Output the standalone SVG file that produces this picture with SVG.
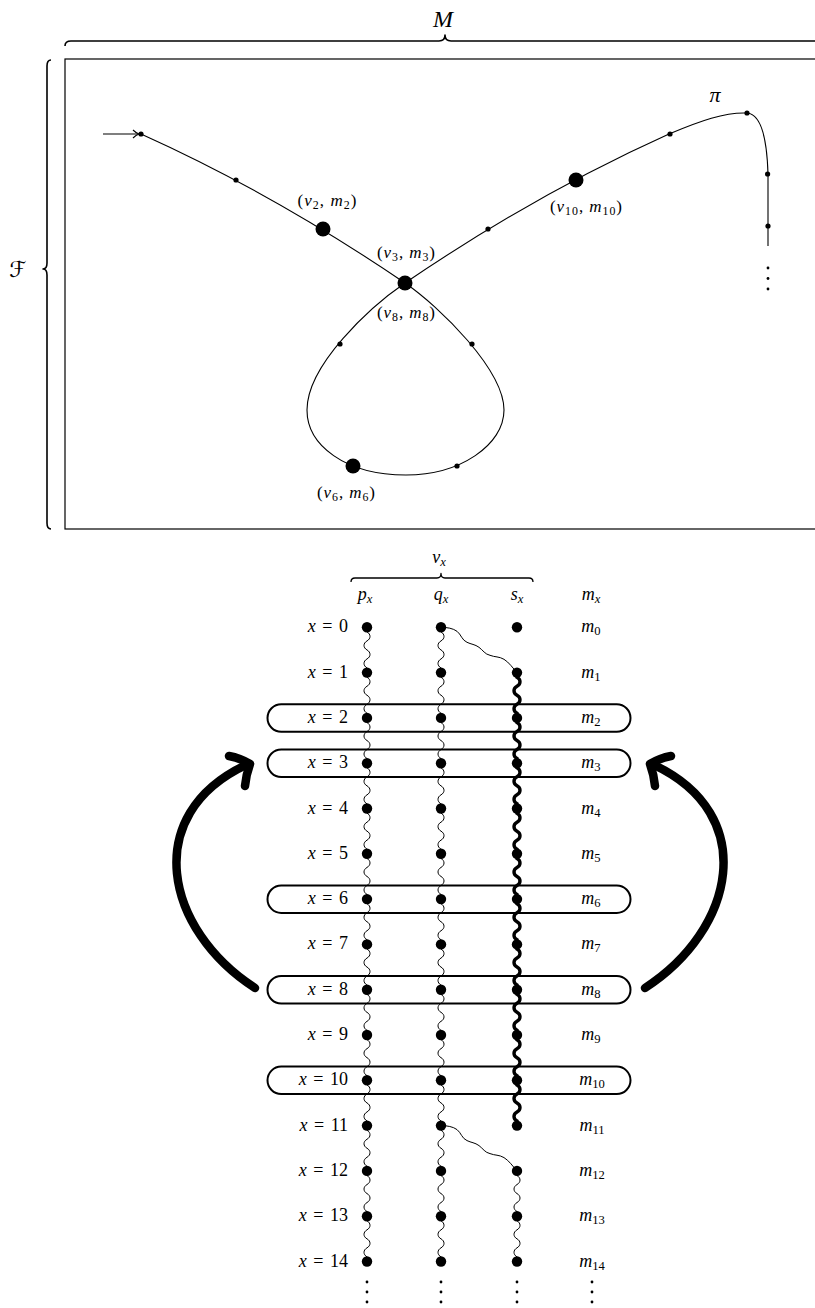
<svg xmlns="http://www.w3.org/2000/svg" xmlns:xlink="http://www.w3.org/1999/xlink" width="815" height="1308" viewBox="0 0 815 1308">
  <style>
    text { font-family: "Liberation Serif", "DejaVu Serif", serif; fill: #000; }
    .i { font-style: italic; }
    .lbl { font-size: 17px; }
    .row { font-size: 18px; word-spacing: 2px; }
    .hd { font-size: 18px; }
    .sub { font-size: 70%; }
    .frame { fill: none; stroke: #000; stroke-width: 1.2; }
    .brace { fill: none; stroke: #000; stroke-width: 1.6; stroke-linejoin: round; }
    .path { fill: none; stroke: #000; stroke-width: 1.1; }
    .wv { fill: none; stroke: #000; stroke-width: 1; }
    .wvk { fill: none; stroke: #000; stroke-width: 3.4; }
    .box { fill: none; stroke: #000; stroke-width: 2; }
    .jump { fill: none; stroke: #000; stroke-width: 8.5; stroke-linecap: round; stroke-linejoin: round; }
    .dot { fill: #000; }
  </style>
  <defs>
    <!-- one wavy step between two consecutive rows -->
    <path id="wv" d="M0,0 L0,4.65 c4,2.25 4,6.75 0,9 s-4,6.75 0,9 s4,6.75 0,9 s-4,6.75 0,9 L0,45.3"/>
    <!-- wavy hop from column q to column s one row lower -->
    <path id="hop" d="M0,0 C6,0 12,1 16,4 C20,7 21,13 26,15 C30,17 34,17 38,20 C42,23 44,27 49,28 C54,30 58,29 63,32 C68,35 72,41 76,45.3"/>
  </defs>

  <!-- frame and braces -->
  <g id="frame">
    <rect class="frame" x="65" y="59" width="800" height="470"/>
    <path class="brace" d="M65,46 Q65,41 71,41 L439,41 Q445,41 445,35 Q445,41 451,41 L830,41"/>
    <text x="443" y="27" text-anchor="middle" class="i" font-size="24">M</text>
    <path class="brace" d="M51,60 Q47,60 47,66 L47,263 Q47,269 43,269 Q47,269 47,275 L47,523 Q47,529 51,529"/>
    <text x="18" y="277" text-anchor="middle" font-size="22" style="font-family:'DejaVu Serif','DejaVu Sans',serif">ℱ</text>
  </g>

  <!-- run π -->
  <g id="run-connectors">
    <path class="path" d="M103,134 L138,134"/>
    <path class="path" d="M133,130 Q136,133 139,134 Q136,135 133,138"/>
    <path class="path" d="M141,134 Q273.7,193.7 405,283"/>
    <path class="path" d="M405,283 Q536.3,193.7 669,134 C700,121 725,112 747,113 C762,114 767,140 768,174 L768,246"/>
    <path class="path" d="M405,283 C370,307 307,365 307,410 C307,445 345,475 406,475 C460,475 504,445 504,410 C504,370 440,307 405,283"/>
  </g>
  <g id="run-nodes">
    <g id="n-start"><circle class="dot" cx="141" cy="134" r="2.6"/></g>
    <g id="n1"><circle class="dot" cx="236" cy="180" r="2.6"/></g>
    <g id="n2"><circle class="dot" cx="323" cy="229" r="7.5"/>
      <text class="lbl" x="327" y="206" text-anchor="middle" textLength="59">(<tspan class="i">v</tspan><tspan class="sub" dy="3">2</tspan><tspan dy="-3">, </tspan><tspan class="i">m</tspan><tspan class="sub" dy="3">2</tspan><tspan dy="-3">)</tspan></text></g>
    <g id="n3"><circle class="dot" cx="405" cy="283" r="7.5"/>
      <text class="lbl" x="406" y="258" text-anchor="middle" textLength="58">(<tspan class="i">v</tspan><tspan class="sub" dy="3">3</tspan><tspan dy="-3">, </tspan><tspan class="i">m</tspan><tspan class="sub" dy="3">3</tspan><tspan dy="-3">)</tspan></text>
      <text class="lbl" x="406" y="318" text-anchor="middle" textLength="58">(<tspan class="i">v</tspan><tspan class="sub" dy="3">8</tspan><tspan dy="-3">, </tspan><tspan class="i">m</tspan><tspan class="sub" dy="3">8</tspan><tspan dy="-3">)</tspan></text></g>
    <g id="n4"><circle class="dot" cx="340" cy="344" r="2.6"/></g>
    <g id="n6"><circle class="dot" cx="353" cy="466" r="7.5"/>
      <text class="lbl" x="346" y="498" text-anchor="middle" textLength="58">(<tspan class="i">v</tspan><tspan class="sub" dy="3">6</tspan><tspan dy="-3">, </tspan><tspan class="i">m</tspan><tspan class="sub" dy="3">6</tspan><tspan dy="-3">)</tspan></text></g>
    <g id="n7"><circle class="dot" cx="457" cy="466" r="2.6"/></g>
    <g id="n8"><circle class="dot" cx="472" cy="344" r="2.6"/></g>
    <g id="n9"><circle class="dot" cx="488" cy="229" r="2.6"/></g>
    <g id="n10"><circle class="dot" cx="576" cy="180" r="7.5"/>
      <text class="lbl" x="586" y="212" text-anchor="middle" textLength="72">(<tspan class="i">v</tspan><tspan class="sub" dy="3">10</tspan><tspan dy="-3">, </tspan><tspan class="i">m</tspan><tspan class="sub" dy="3">10</tspan><tspan dy="-3">)</tspan></text></g>
    <g id="n11"><circle class="dot" cx="670" cy="134" r="2.6"/></g>
    <g id="n12"><circle class="dot" cx="747" cy="113" r="2.6"/>
      <text x="715" y="102" text-anchor="middle" class="i" font-size="22">π</text></g>
    <g id="n13"><circle class="dot" cx="767.6" cy="174" r="2.6"/></g>
    <g id="n14"><circle class="dot" cx="768" cy="226" r="2.6"/></g>
    <g id="n-more">
      <circle class="dot" cx="768" cy="268" r="1.4"/>
      <circle class="dot" cx="768" cy="278.5" r="1.4"/>
      <circle class="dot" cx="768" cy="289" r="1.4"/>
    </g>
  </g>

  <!-- header of the table -->
  <g id="header">
    <path class="brace" d="M351,582 Q351,578 355,578 L437,578 Q441,578 441,573.5 Q441,578 445,578 L529,578 Q533,578 533,582" style="stroke-width:1.3"/>
    <text class="hd" x="439" y="563" text-anchor="middle"><tspan class="i">v</tspan><tspan class="sub i" dy="3">x</tspan></text>
    <text class="hd" x="365" y="600" text-anchor="middle"><tspan class="i">p</tspan><tspan class="sub i" dy="3">x</tspan></text>
    <text class="hd" x="441" y="600" text-anchor="middle"><tspan class="i">q</tspan><tspan class="sub i" dy="3">x</tspan></text>
    <text class="hd" x="517" y="600" text-anchor="middle"><tspan class="i">s</tspan><tspan class="sub i" dy="3">x</tspan></text>
    <text class="hd" x="591" y="600" text-anchor="middle"><tspan class="i">m</tspan><tspan class="sub i" dy="3">x</tspan></text>
  </g>

  <!-- wavy connectors between rows -->
  <g id="table-connectors">
    <g class="wv">
      <use xlink:href="#wv" x="367" y="627.3"/><use xlink:href="#wv" x="367" y="672.6"/><use xlink:href="#wv" x="367" y="717.9"/>
      <use xlink:href="#wv" x="367" y="763.2"/><use xlink:href="#wv" x="367" y="808.5"/><use xlink:href="#wv" x="367" y="853.8"/>
      <use xlink:href="#wv" x="367" y="899.1"/><use xlink:href="#wv" x="367" y="944.4"/><use xlink:href="#wv" x="367" y="989.7"/>
      <use xlink:href="#wv" x="367" y="1035"/><use xlink:href="#wv" x="367" y="1080.3"/><use xlink:href="#wv" x="367" y="1125.6"/>
      <use xlink:href="#wv" x="367" y="1170.9"/><use xlink:href="#wv" x="367" y="1216.2"/>
      <use xlink:href="#wv" x="441" y="627.3"/><use xlink:href="#wv" x="441" y="672.6"/><use xlink:href="#wv" x="441" y="717.9"/>
      <use xlink:href="#wv" x="441" y="763.2"/><use xlink:href="#wv" x="441" y="808.5"/><use xlink:href="#wv" x="441" y="853.8"/>
      <use xlink:href="#wv" x="441" y="899.1"/><use xlink:href="#wv" x="441" y="944.4"/><use xlink:href="#wv" x="441" y="989.7"/>
      <use xlink:href="#wv" x="441" y="1035"/><use xlink:href="#wv" x="441" y="1080.3"/><use xlink:href="#wv" x="441" y="1125.6"/>
      <use xlink:href="#wv" x="441" y="1170.9"/><use xlink:href="#wv" x="441" y="1216.2"/>
      <use xlink:href="#wv" x="517" y="1170.9"/><use xlink:href="#wv" x="517" y="1216.2"/>
      <use xlink:href="#hop" x="441" y="627.3"/>
      <use xlink:href="#hop" x="441" y="1125.6"/>
    </g>
    <g class="wvk">
      <use xlink:href="#wv" x="517" y="672.6"/><use xlink:href="#wv" x="517" y="717.9"/><use xlink:href="#wv" x="517" y="763.2"/>
      <use xlink:href="#wv" x="517" y="808.5"/><use xlink:href="#wv" x="517" y="853.8"/><use xlink:href="#wv" x="517" y="899.1"/>
      <use xlink:href="#wv" x="517" y="944.4"/><use xlink:href="#wv" x="517" y="989.7"/><use xlink:href="#wv" x="517" y="1035"/>
      <use xlink:href="#wv" x="517" y="1080.3"/>
    </g>
    <!-- jumps back from row 8 to row 3 -->
    <path class="jump" d="M255,988 C165,930 140,815 246,765"/>
    <path class="jump" d="M229,756 Q240,758 250,764 Q246,775 245,786"/>
    <g transform="translate(900,0) scale(-1,1)">
      <path class="jump" d="M255,988 C165,930 140,815 246,765"/>
      <path class="jump" d="M229,756 Q240,758 250,764 Q246,775 245,786"/>
    </g>
  </g>

  <!-- highlighted rows -->
  <g id="boxes">
    <rect id="box-2" class="box" x="267.5" y="704.2" width="363" height="27.5" rx="13.75"/>
    <rect id="box-3" class="box" x="267.5" y="749.5" width="363" height="27.5" rx="13.75"/>
    <rect id="box-6" class="box" x="267.5" y="885.4" width="363" height="27.5" rx="13.75"/>
    <rect id="box-8" class="box" x="267.5" y="976" width="363" height="27.5" rx="13.75"/>
    <rect id="box-10" class="box" x="267.5" y="1066.6" width="363" height="27.5" rx="13.75"/>
  </g>

  <!-- table rows -->
  <g id="rows">
    <g id="row-0"><text class="row" x="348" y="632.3" text-anchor="end"><tspan class="i">x</tspan> = 0</text>
      <circle class="dot" cx="367" cy="627.3" r="5.2"/><circle class="dot" cx="441" cy="627.3" r="5.2"/><circle class="dot" cx="517" cy="627.3" r="5.2"/>
      <text class="hd" x="591" y="632.3" text-anchor="middle"><tspan class="i">m</tspan><tspan class="sub" dy="3">0</tspan></text></g>
    <g id="row-1"><text class="row" x="348" y="677.6" text-anchor="end"><tspan class="i">x</tspan> = 1</text>
      <circle class="dot" cx="367" cy="672.6" r="5.2"/><circle class="dot" cx="441" cy="672.6" r="5.2"/><circle class="dot" cx="517" cy="672.6" r="5.2"/>
      <text class="hd" x="591" y="677.6" text-anchor="middle"><tspan class="i">m</tspan><tspan class="sub" dy="3">1</tspan></text></g>
    <g id="row-2"><text class="row" x="348" y="722.9" text-anchor="end"><tspan class="i">x</tspan> = 2</text>
      <circle class="dot" cx="367" cy="717.9" r="5.2"/><circle class="dot" cx="441" cy="717.9" r="5.2"/><circle class="dot" cx="517" cy="717.9" r="5.2"/>
      <text class="hd" x="591" y="722.9" text-anchor="middle"><tspan class="i">m</tspan><tspan class="sub" dy="3">2</tspan></text></g>
    <g id="row-3"><text class="row" x="348" y="768.2" text-anchor="end"><tspan class="i">x</tspan> = 3</text>
      <circle class="dot" cx="367" cy="763.2" r="5.2"/><circle class="dot" cx="441" cy="763.2" r="5.2"/><circle class="dot" cx="517" cy="763.2" r="5.2"/>
      <text class="hd" x="591" y="768.2" text-anchor="middle"><tspan class="i">m</tspan><tspan class="sub" dy="3">3</tspan></text></g>
    <g id="row-4"><text class="row" x="348" y="813.5" text-anchor="end"><tspan class="i">x</tspan> = 4</text>
      <circle class="dot" cx="367" cy="808.5" r="5.2"/><circle class="dot" cx="441" cy="808.5" r="5.2"/><circle class="dot" cx="517" cy="808.5" r="5.2"/>
      <text class="hd" x="591" y="813.5" text-anchor="middle"><tspan class="i">m</tspan><tspan class="sub" dy="3">4</tspan></text></g>
    <g id="row-5"><text class="row" x="348" y="858.8" text-anchor="end"><tspan class="i">x</tspan> = 5</text>
      <circle class="dot" cx="367" cy="853.8" r="5.2"/><circle class="dot" cx="441" cy="853.8" r="5.2"/><circle class="dot" cx="517" cy="853.8" r="5.2"/>
      <text class="hd" x="591" y="858.8" text-anchor="middle"><tspan class="i">m</tspan><tspan class="sub" dy="3">5</tspan></text></g>
    <g id="row-6"><text class="row" x="348" y="904.1" text-anchor="end"><tspan class="i">x</tspan> = 6</text>
      <circle class="dot" cx="367" cy="899.1" r="5.2"/><circle class="dot" cx="441" cy="899.1" r="5.2"/><circle class="dot" cx="517" cy="899.1" r="5.2"/>
      <text class="hd" x="591" y="904.1" text-anchor="middle"><tspan class="i">m</tspan><tspan class="sub" dy="3">6</tspan></text></g>
    <g id="row-7"><text class="row" x="348" y="949.4" text-anchor="end"><tspan class="i">x</tspan> = 7</text>
      <circle class="dot" cx="367" cy="944.4" r="5.2"/><circle class="dot" cx="441" cy="944.4" r="5.2"/><circle class="dot" cx="517" cy="944.4" r="5.2"/>
      <text class="hd" x="591" y="949.4" text-anchor="middle"><tspan class="i">m</tspan><tspan class="sub" dy="3">7</tspan></text></g>
    <g id="row-8"><text class="row" x="348" y="994.7" text-anchor="end"><tspan class="i">x</tspan> = 8</text>
      <circle class="dot" cx="367" cy="989.7" r="5.2"/><circle class="dot" cx="441" cy="989.7" r="5.2"/><circle class="dot" cx="517" cy="989.7" r="5.2"/>
      <text class="hd" x="591" y="994.7" text-anchor="middle"><tspan class="i">m</tspan><tspan class="sub" dy="3">8</tspan></text></g>
    <g id="row-9"><text class="row" x="348" y="1040" text-anchor="end"><tspan class="i">x</tspan> = 9</text>
      <circle class="dot" cx="367" cy="1035" r="5.2"/><circle class="dot" cx="441" cy="1035" r="5.2"/><circle class="dot" cx="517" cy="1035" r="5.2"/>
      <text class="hd" x="591" y="1040" text-anchor="middle"><tspan class="i">m</tspan><tspan class="sub" dy="3">9</tspan></text></g>
    <g id="row-10"><text class="row" x="348" y="1085.3" text-anchor="end"><tspan class="i">x</tspan> = 10</text>
      <circle class="dot" cx="367" cy="1080.3" r="5.2"/><circle class="dot" cx="441" cy="1080.3" r="5.2"/><circle class="dot" cx="517" cy="1080.3" r="5.2"/>
      <text class="hd" x="592" y="1085.3" text-anchor="middle"><tspan class="i">m</tspan><tspan class="sub" dy="3">10</tspan></text></g>
    <g id="row-11"><text class="row" x="348" y="1130.6" text-anchor="end"><tspan class="i">x</tspan> = 11</text>
      <circle class="dot" cx="367" cy="1125.6" r="5.2"/><circle class="dot" cx="441" cy="1125.6" r="5.2"/><circle class="dot" cx="517" cy="1125.6" r="5.2"/>
      <text class="hd" x="592" y="1130.6" text-anchor="middle"><tspan class="i">m</tspan><tspan class="sub" dy="3">11</tspan></text></g>
    <g id="row-12"><text class="row" x="348" y="1175.9" text-anchor="end"><tspan class="i">x</tspan> = 12</text>
      <circle class="dot" cx="367" cy="1170.9" r="5.2"/><circle class="dot" cx="441" cy="1170.9" r="5.2"/><circle class="dot" cx="517" cy="1170.9" r="5.2"/>
      <text class="hd" x="592" y="1175.9" text-anchor="middle"><tspan class="i">m</tspan><tspan class="sub" dy="3">12</tspan></text></g>
    <g id="row-13"><text class="row" x="348" y="1221.2" text-anchor="end"><tspan class="i">x</tspan> = 13</text>
      <circle class="dot" cx="367" cy="1216.2" r="5.2"/><circle class="dot" cx="441" cy="1216.2" r="5.2"/><circle class="dot" cx="517" cy="1216.2" r="5.2"/>
      <text class="hd" x="592" y="1221.2" text-anchor="middle"><tspan class="i">m</tspan><tspan class="sub" dy="3">13</tspan></text></g>
    <g id="row-14"><text class="row" x="348" y="1266.5" text-anchor="end"><tspan class="i">x</tspan> = 14</text>
      <circle class="dot" cx="367" cy="1261.5" r="5.2"/><circle class="dot" cx="441" cy="1261.5" r="5.2"/><circle class="dot" cx="517" cy="1261.5" r="5.2"/>
      <text class="hd" x="592" y="1266.5" text-anchor="middle"><tspan class="i">m</tspan><tspan class="sub" dy="3">14</tspan></text></g>
    <g id="row-more">
      <circle class="dot" cx="367" cy="1282" r="1.4"/><circle class="dot" cx="367" cy="1292" r="1.4"/><circle class="dot" cx="367" cy="1302" r="1.4"/>
      <circle class="dot" cx="441" cy="1282" r="1.4"/><circle class="dot" cx="441" cy="1292" r="1.4"/><circle class="dot" cx="441" cy="1302" r="1.4"/>
      <circle class="dot" cx="517" cy="1282" r="1.4"/><circle class="dot" cx="517" cy="1292" r="1.4"/><circle class="dot" cx="517" cy="1302" r="1.4"/>
      <circle class="dot" cx="592" cy="1282" r="1.4"/><circle class="dot" cx="592" cy="1292" r="1.4"/><circle class="dot" cx="592" cy="1302" r="1.4"/>
    </g>
  </g>
</svg>
